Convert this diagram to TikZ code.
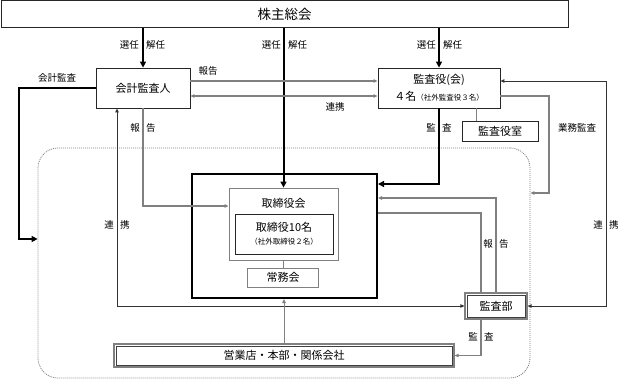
\documentclass[tikz,border=0pt]{standalone}
\usepackage{fontspec}
\setmainfont{Noto Sans CJK JP}
\usetikzlibrary{arrows.meta, positioning}
\definecolor{linegray}{HTML}{808080}
\tikzset{
	box/.style={draw=black!85, line width=0.8pt, inner sep=0pt, align=center,
		font=\fontsize{11}{14}\selectfont}
}
\tikzset{
	graybox/.style={box, draw=linegray},
	dblbox/.style={box, draw=linegray, line width=1.2pt},
	inframe/.style={draw=black!75, line width=0.6pt},
	lbl/.style={inner sep=0pt, font=\fontsize{9.5}{10}\selectfont},
	thickarrow/.style={line width=2pt, -{Triangle[length=6pt,width=6pt]}},
	grayarrow/.style={draw=linegray, line width=1.2pt, -{Triangle[length=4pt,width=3.5pt]}},
	linkarrow/.style={draw=black!80, line width=0.9pt, {Triangle[length=4pt,width=3.5pt]}-{Triangle[length=4pt,width=3.5pt]}}
}
\newcommand{\smalltxt}[1]{{\fontsize{7.5}{9}\selectfont #1}}

\begin{document}
\begin{tikzpicture}[x=1pt, y=-1pt]
      \useasboundingbox (0,0) rectangle (620,379);
      % company area
      \node[draw=linegray, line width=0.8pt, dash pattern=on 1pt off 1pt, rounded corners=20pt,
        minimum width=492, minimum height=230] (group) at (284,263) {};
      \node[box, minimum width=567, minimum height=27, font=\fontsize{13.5}{15}\selectfont] (gm) at (284.5,14) {株主総会};
      \node[box, minimum width=94, minimum height=40] (auditor) at (143,88) {会計監査人};
      \node[box, minimum width=122, minimum height=40, font=\fontsize{11}{17}\selectfont] (kansa) at (439,88)
        {監査役(会)\\４名\smalltxt{（社外監査役３名）}};
      \node[box, minimum width=76, minimum height=20] (office) at (500,131) {監査役室};
      \node[draw, line width=2pt, minimum width=185, minimum height=124] (board) at (284.5,236) {};
      \node[graybox, minimum width=109, minimum height=72] (torikai) at (283.5,224) {};
      \node[inner sep=0pt, font=\fontsize{11}{13}\selectfont] (toritxt) at (283.5,203) {取締役会};
      \node[box, minimum width=98, minimum height=40] (directors) at (284,234)
        {取締役10名\\[-1pt]\smalltxt{（社外取締役２名）}};
      \node[graybox, minimum width=71, minimum height=19] (jomu) at (283,277.5) {常務会};
      \node[dblbox, minimum width=62, minimum height=26] (dept) at (496,306) {監査部};
      \node[dblbox, minimum width=340, minimum height=23] (branches) at (284,355.5) {営業店・本部・関係会社};
      % inner frames of the double boxes
      \draw[inframe] ([shift={(2.5,2.5)}]dept.north west) rectangle ([shift={(-2.5,-2.5)}]dept.south east);
      \draw[inframe] ([shift={(2.5,2.5)}]branches.north west) rectangle ([shift={(-2.5,-2.5)}]branches.south east);

      % from the shareholders
      \draw[thickarrow] (auditor.north |- gm.south) -- (auditor.north);
      \draw[thickarrow] (torikai.north |- gm.south) -- (torikai.north);
      \draw[thickarrow] (kansa.north |- gm.south) -- (kansa.north);
      \foreach \x [count=\i] in {142,284,439} {
        \node[lbl, anchor=east] (sen\i) at (\x-3,45) {選任};
        \node[lbl, anchor=west] (kai\i) at (\x+4,45) {解任};
      }

      \draw[grayarrow] (auditor.east |- 0,81) -- (kansa.west |- 0,81);
      \draw[draw=linegray, line width=1.2pt, {Triangle[length=4pt,width=3.5pt]}-{Triangle[length=4pt,width=3.5pt]}]
        (auditor.east |- 0,96) -- (kansa.west |- 0,96);
      \draw[thickarrow] (auditor.west) -- (19,88) |- (group.west |- 0,239);
      \draw[grayarrow] (auditor.south) |- (torikai.west |- 0,206);
      \draw[linkarrow] (dept.west) -| (auditor.south -| 117,0);
      \draw[linkarrow] (dept.east) -| (606,81) -- (kansa.east |- 0,81);
      \draw[grayarrow] (kansa.east |- 0,96) -| (549,193) -- (group.east |- 0,193);
      \draw[thickarrow] (kansa.south) |- (board.east |- 0,184);
      \draw[draw=linegray, line width=1pt] (kansa.south -| 476,0) -- (office.north -| 476,0);
      \draw[grayarrow] (dept.north) |- (board.east |- 0,198);
      \draw[draw=linegray, line width=1.2pt] (dept.north -| 481,0) |- (board.east |- 0,213);
      \draw[grayarrow] (dept.south -| 481,0) |- (branches.east);
      \draw[draw=linegray, line width=1pt, -{Triangle[length=4pt,width=3.5pt]}] (branches.north) -- (branches.north |- board.south);
      \draw[draw=linegray, line width=1pt] (jomu.north |- torikai.south) -- (jomu.north);

      \node[lbl] (kaikei) at (57,78) {会計監査};
      \node[lbl] (hokoku) at (208,71) {報告};
      \node[lbl] (renkei) at (335,107) {連携};
      \node[lbl] (gyomu) at (577,128) {業務監査};
      \foreach \a/\b/\x/\y [count=\i] in {報/告/143/128, 監/査/439/128, 連/携/117/225,
        連/携/606/225, 報/告/496/244, 監/査/481/337} {
        \node[lbl, anchor=east] (pa\i) at (\x-3,\y) {\a};
        \node[lbl, anchor=west] (pb\i) at (\x+3,\y) {\b};
      }
    \end{tikzpicture}
\end{document}
